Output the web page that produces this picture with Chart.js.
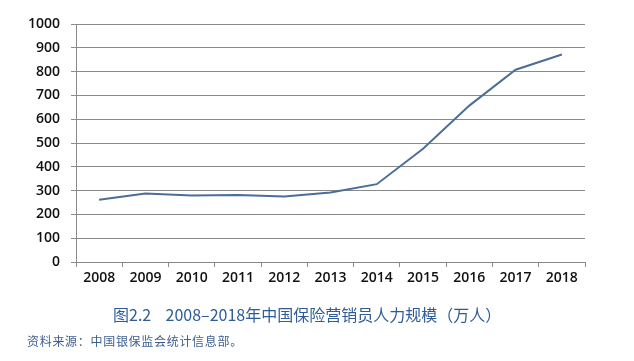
<!DOCTYPE html>
<html><head><meta charset="utf-8">
<script src="https://cdn.jsdelivr.net/npm/chart.js@4"></script>
<style>
html,body{margin:0;padding:0;background:#fff;width:634px;height:361px;overflow:hidden;}
#wrap{position:relative;width:634px;height:361px;}
#c{position:absolute;left:0;top:0;}
#title{position:absolute;left:113px;top:303px;font-family:"Noto Sans CJK SC","Noto Sans",sans-serif;font-size:16px;color:#2f5c98;white-space:nowrap;line-height:22px;}
#src{position:absolute;left:27px;top:332px;font-family:"Noto Sans CJK SC",sans-serif;font-size:12px;color:#3e5f8e;letter-spacing:0.7px;white-space:nowrap;line-height:17px;}
</style></head>
<body><div id="wrap"><canvas id="c" width="634" height="361"></canvas>
<div id="title">图2.2&nbsp;&nbsp;&nbsp;&nbsp;2008–2018年中国保险营销员人力规模（万人）</div>
<div id="src">资料来源：中国银保监会统计信息部。</div></div>
<script>
const years = ["2008","2009","2010","2011","2012","2013","2014","2015","2016","2017","2018"];
const agents = [262, 288, 279, 281, 275, 292, 327, 476, 657, 808, 872];
const yTicks = [0,100,200,300,400,500,600,700,800,900,1000];

new Chart(document.getElementById('c'), {
  type: 'line',
  data: { labels: years, datasets: [{ data: agents, borderColor: '#4a6e97', borderWidth: 2, pointRadius: 0, tension: 0, fill: false }] },
  options: {
    responsive: false, animation: false,
    layout: { padding: { left: 0, right: 49, top: 24, bottom: 69 } },
    plugins: { legend: { display: false }, tooltip: { enabled: false } },
    scales: {
      x: {
        offset: true,
        grid: { display: true, drawOnChartArea: false, drawTicks: true, tickLength: 5, color: '#8a8a8a', offset: true },
        border: { display: true, color: '#8a8a8a', width: 1 },
        ticks: { color: '#111', font: { family: 'Open Sans', size: 14, weight: '600' }, padding: 3, maxRotation: 0, autoSkip: false },
        afterFit: s => { s.height = 30; }
      },
      y: {
        min: 0, max: 1000,
        afterBuildTicks: s => { s.ticks = yTicks.map(v => ({ value: v })); },
        grid: { color: '#8a8a8a', lineWidth: 1, drawTicks: true, tickLength: 5 },
        border: { display: true, color: '#8a8a8a', width: 1 },
        ticks: { color: '#111', font: { family: 'Open Sans', size: 14, weight: '600' }, padding: 11, callback: v => String(v) },
        afterFit: s => { s.width = 76; }
      }
    }
  }
});
</script></body></html>
